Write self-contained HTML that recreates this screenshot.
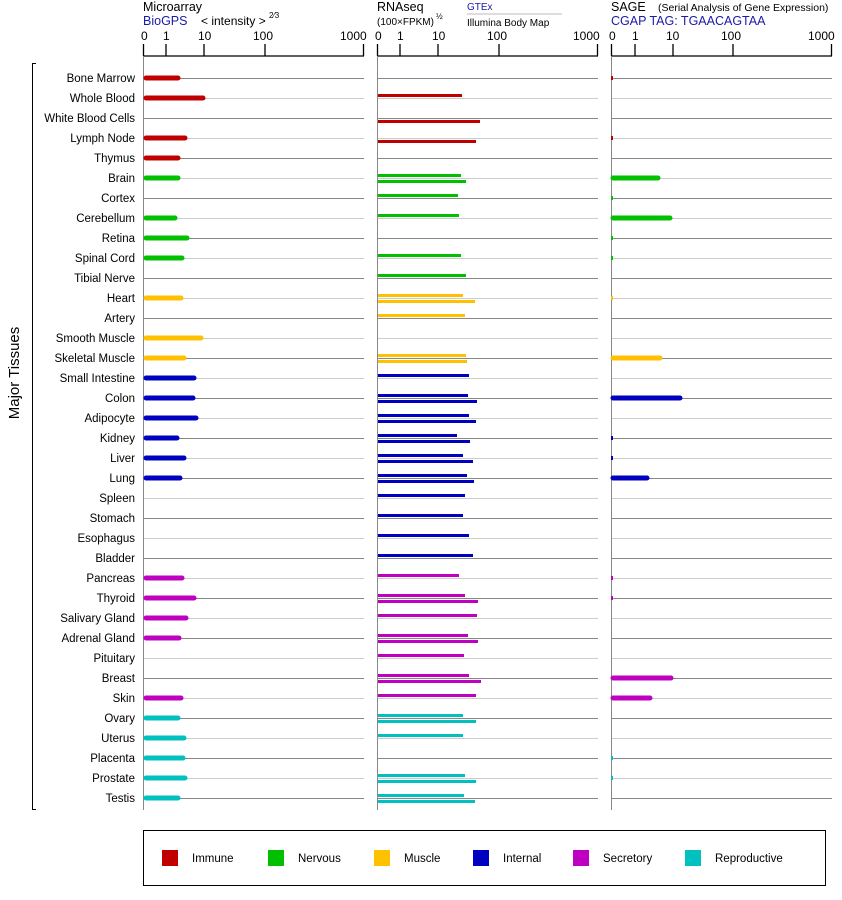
<!DOCTYPE html>
<html><head><meta charset="utf-8"><style>
html,body{margin:0;padding:0;background:#fff}
svg{display:block;font-family:"Liberation Sans",Arial,sans-serif}
</style></head><body>
<svg width="842" height="900" viewBox="0 0 842 900" xmlns="http://www.w3.org/2000/svg">
<g font-size="12.5" fill="#000">
<text x="143" y="11">Microarray</text>
<text x="143" y="25" fill="#1a1aa8">BioGPS</text>
<text x="201" y="25" font-size="12">&lt; intensity &gt;</text>
<text x="269" y="18" font-size="8">2⁄3</text>
<text x="377" y="11">RNAseq</text>
<text x="377" y="25" font-size="10">(100×FPKM)</text>
<text x="436" y="19" font-size="8">½</text>
<text x="467" y="10" font-size="10" fill="#1a1aa8">GTEx</text>
<line x1="467" y1="14" x2="562" y2="14" stroke="#bbb"/>
<text x="467" y="26" font-size="10">Illumina Body Map</text>
<text x="611" y="11">SAGE</text>
<text x="658" y="11" font-size="10.5">(Serial Analysis of Gene Expression)</text>
<text x="611" y="25" fill="#1a1aa8">CGAP TAG: TGAACAGTAA</text>
</g>
<g font-size="12" fill="#000">
<text x="141" y="40">0</text><text x="163" y="40">1</text><text x="198" y="40">10</text><text x="253" y="40">100</text><text x="340" y="40">1000</text>
<text x="375" y="40">0</text><text x="397" y="40">1</text><text x="432" y="40">10</text><text x="487" y="40">100</text><text x="573" y="40">1000</text>
<text x="609" y="40">0</text><text x="632" y="40">1</text><text x="666" y="40">10</text><text x="721" y="40">100</text><text x="808" y="40">1000</text>
</g>
<g stroke="#000" stroke-width="1.3" fill="none">
<path d="M143.5 56H364M143.5 44V56M166 44V56M204 44V56M265 44V56M363.5 44V56"/>
<path d="M377.5 56H598M377.5 44V56M400 44V56M438 44V56M499 44V56M597.5 44V56"/>
<path d="M611.5 56H832M611.5 44V56M635 44V56M673 44V56M733 44V56M831.5 44V56"/>
</g>
<g stroke="#888" stroke-width="1" fill="none">
<path d="M143.5 56V810M377.5 56V810M611.5 56V810"/>
</g>
<g id="dk" stroke="#888" stroke-width="1">
<path d="M144 78.5H364M144 118.5H364M144 158.5H364M144 198.5H364M144 238.5H364M144 278.5H364M144 318.5H364M144 358.5H364M144 398.5H364M144 438.5H364M144 478.5H364M144 518.5H364M144 558.5H364M144 598.5H364M144 638.5H364M144 678.5H364M144 718.5H364M144 758.5H364M144 798.5H364"/>
</g>
<use href="#dk" x="234"/><use href="#dk" x="468"/>
<g id="lt" stroke="#ccc" stroke-width="1">
<path d="M144 98.5H364M144 138.5H364M144 178.5H364M144 218.5H364M144 258.5H364M144 298.5H364M144 338.5H364M144 378.5H364M144 418.5H364M144 458.5H364M144 498.5H364M144 538.5H364M144 578.5H364M144 618.5H364M144 658.5H364M144 698.5H364M144 738.5H364M144 778.5H364"/>
</g>
<use href="#lt" x="234"/><use href="#lt" x="468"/>
<g font-size="11.5" fill="#000" text-anchor="end">
<text x="135" y="82">Bone Marrow</text><text x="135" y="102">Whole Blood</text><text x="135" y="122">White Blood Cells</text><text x="135" y="142">Lymph Node</text><text x="135" y="162">Thymus</text>
<text x="135" y="182">Brain</text><text x="135" y="202">Cortex</text><text x="135" y="222">Cerebellum</text><text x="135" y="242">Retina</text><text x="135" y="262">Spinal Cord</text><text x="135" y="282">Tibial Nerve</text>
<text x="135" y="302">Heart</text><text x="135" y="322">Artery</text><text x="135" y="342">Smooth Muscle</text><text x="135" y="362">Skeletal Muscle</text>
<text x="135" y="382">Small Intestine</text><text x="135" y="402">Colon</text><text x="135" y="422">Adipocyte</text><text x="135" y="442">Kidney</text><text x="135" y="462">Liver</text><text x="135" y="482">Lung</text><text x="135" y="502">Spleen</text><text x="135" y="522">Stomach</text><text x="135" y="542">Esophagus</text><text x="135" y="562">Bladder</text>
<text x="135" y="582">Pancreas</text><text x="135" y="602">Thyroid</text><text x="135" y="622">Salivary Gland</text><text x="135" y="642">Adrenal Gland</text><text x="135" y="662">Pituitary</text><text x="135" y="682">Breast</text><text x="135" y="702">Skin</text>
<text x="135" y="722">Ovary</text><text x="135" y="742">Uterus</text><text x="135" y="762">Placenta</text><text x="135" y="782">Prostate</text><text x="135" y="802">Testis</text>
</g>
<path d="M36 63.5H32.5V809.5H36" stroke="#000" fill="none"/>
<text x="19" y="373" font-size="15" text-anchor="middle" transform="rotate(-90 19 373)">Major Tissues</text>
<!-- microarray -->
<g stroke-width="5" stroke-linecap="round">
<g stroke="#c00000"><path d="M146 78H178M146 98H203M146 138H185M146 158H178"/></g>
<g stroke="#00c000"><path d="M146 178H178M146 218H175M146 238H187M146 258H182"/></g>
<g stroke="#ffc000"><path d="M146 298H181M146 338H201M146 358H184"/></g>
<g stroke="#0000c0"><path d="M146 378H194M146 398H193M146 418H196M146 438H177M146 458H184M146 478H180"/></g>
<g stroke="#c000c0"><path d="M146 578H182M146 598H194M146 618H186M146 638H179M146 698H181"/></g>
<g stroke="#00c0c0"><path d="M146 718H178M146 738H184M146 758H183M146 778H185M146 798H178"/></g>
</g>
<!-- RNAseq -->
<g fill="#c00000"><rect x="378" y="94" width="84" height="3"/><rect x="378" y="120" width="102" height="3"/><rect x="378" y="140" width="98" height="3"/></g>
<g fill="#00c000"><rect x="378" y="174" width="83" height="3"/><rect x="378" y="180" width="88" height="3"/><rect x="378" y="194" width="80" height="3"/><rect x="378" y="214" width="81" height="3"/><rect x="378" y="254" width="83" height="3"/><rect x="378" y="274" width="88" height="3"/></g>
<g fill="#ffc000"><rect x="378" y="294" width="85" height="3"/><rect x="378" y="300" width="97" height="3"/><rect x="378" y="314" width="87" height="3"/><rect x="378" y="354" width="88" height="3"/><rect x="378" y="360" width="89" height="3"/></g>
<g fill="#0000c0"><rect x="378" y="374" width="91" height="3"/><rect x="378" y="394" width="90" height="3"/><rect x="378" y="400" width="99" height="3"/><rect x="378" y="414" width="91" height="3"/><rect x="378" y="420" width="98" height="3"/><rect x="378" y="434" width="79" height="3"/><rect x="378" y="440" width="92" height="3"/><rect x="378" y="454" width="85" height="3"/><rect x="378" y="460" width="95" height="3"/><rect x="378" y="474" width="89" height="3"/><rect x="378" y="480" width="96" height="3"/><rect x="378" y="494" width="87" height="3"/><rect x="378" y="514" width="85" height="3"/><rect x="378" y="534" width="91" height="3"/><rect x="378" y="554" width="95" height="3"/></g>
<g fill="#c000c0"><rect x="378" y="574" width="81" height="3"/><rect x="378" y="594" width="87" height="3"/><rect x="378" y="600" width="100" height="3"/><rect x="378" y="614" width="99" height="3"/><rect x="378" y="634" width="90" height="3"/><rect x="378" y="640" width="100" height="3"/><rect x="378" y="654" width="86" height="3"/><rect x="378" y="674" width="91" height="3"/><rect x="378" y="680" width="103" height="3"/><rect x="378" y="694" width="98" height="3"/></g>
<g fill="#00c0c0"><rect x="378" y="714" width="85" height="3"/><rect x="378" y="720" width="98" height="3"/><rect x="378" y="734" width="85" height="3"/><rect x="378" y="774" width="87" height="3"/><rect x="378" y="780" width="98" height="3"/><rect x="378" y="794" width="86" height="3"/><rect x="378" y="800" width="97" height="3"/></g>
<!-- SAGE -->
<g stroke-width="5" stroke-linecap="round">
<path stroke="#00c000" d="M613 178H658M613 218H670"/>
<path stroke="#ffc000" d="M613 358H660"/>
<path stroke="#0000c0" d="M613 398H680M613 478H647"/>
<path stroke="#c000c0" d="M613 678H671M613 698H650"/>
</g>
<g>
<rect x="611" y="76" width="2" height="4" fill="#c00000"/><rect x="611" y="136" width="2" height="4" fill="#c00000"/>
<rect x="611" y="196" width="2" height="4" fill="#00c000"/><rect x="611" y="236" width="2" height="4" fill="#00c000"/><rect x="611" y="256" width="2" height="4" fill="#00c000"/>
<rect x="611" y="296" width="2" height="4" fill="#ffc000"/>
<rect x="611" y="436" width="2" height="4" fill="#0000c0"/><rect x="611" y="456" width="2" height="4" fill="#0000c0"/>
<rect x="611" y="576" width="2" height="4" fill="#c000c0"/><rect x="611" y="596" width="2" height="4" fill="#c000c0"/>
<rect x="611" y="756" width="2" height="4" fill="#00c0c0"/><rect x="611" y="776" width="2" height="4" fill="#00c0c0"/>
</g>
<!-- legend -->
<rect x="143.5" y="830.5" width="682" height="55" fill="none" stroke="#000"/>
<g font-size="11.5" fill="#000">
<rect x="162" y="850" width="16" height="16" fill="#c00000"/><text x="192" y="862">Immune</text>
<rect x="268" y="850" width="16" height="16" fill="#00c000"/><text x="298" y="862">Nervous</text>
<rect x="374" y="850" width="16" height="16" fill="#ffc000"/><text x="404" y="862">Muscle</text>
<rect x="473" y="850" width="16" height="16" fill="#0000c0"/><text x="503" y="862">Internal</text>
<rect x="573" y="850" width="16" height="16" fill="#c000c0"/><text x="603" y="862">Secretory</text>
<rect x="685" y="850" width="16" height="16" fill="#00c0c0"/><text x="715" y="862">Reproductive</text>
</g>
</svg>
</body></html>
